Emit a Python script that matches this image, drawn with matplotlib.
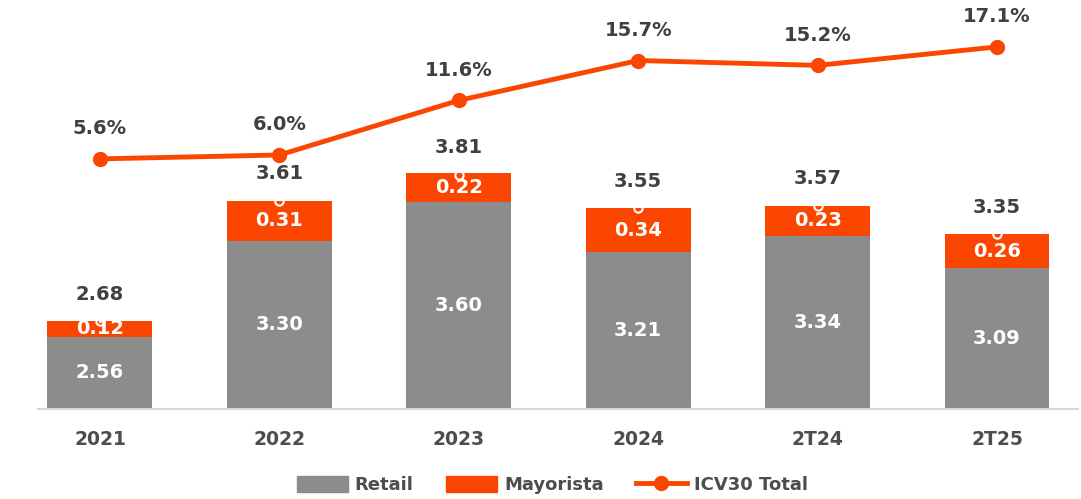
import matplotlib
matplotlib.use("Agg")
import matplotlib.pyplot as plt
from matplotlib.patches import Patch
from matplotlib.lines import Line2D

categories = ["2021", "2022", "2023", "2024", "2T24", "2T25"]
retail = [2.56, 3.30, 3.60, 3.21, 3.34, 3.09]
mayorista = [0.12, 0.31, 0.22, 0.34, 0.23, 0.26]
totals = [2.68, 3.61, 3.81, 3.55, 3.57, 3.35]
icv30 = [5.6, 6.0, 11.6, 15.7, 15.2, 17.1]

GRAY = "#8c8c8c"
ORANGE = "#fa4600"
TXT = "#404040"
TICK = "#4d4d4d"
FONT = "DejaVu Sans"

fig = plt.figure(figsize=(10.81, 4.99), dpi=100)
ax = fig.add_axes([0.0352, 0.180, 0.9618, 0.81])
x = list(range(len(categories)))
w = 0.585
ax.bar(x, retail, width=w, color=GRAY, bottom=0)
ax.bar(x, mayorista, width=w, bottom=retail, color=ORANGE)
ax.plot(x, totals, linestyle="none", marker="o", markersize=6,
        markerfacecolor="none", markeredgecolor="white", markeredgewidth=1.5, zorder=4)
ax.set_ylim(2.0, 5.12)
ax.set_xlim(-0.345, 5.45)

for i in x:
    ax.text(i, (2.0 + retail[i]) / 2, f"{retail[i]:.2f}", ha="center", va="center",
            color="white", fontsize=14, fontweight="bold", family=FONT)
    ax.text(i, retail[i] + mayorista[i] / 2, f"{mayorista[i]:.2f}", ha="center", va="center",
            color="white", fontsize=14, fontweight="bold", family=FONT, zorder=5)
    ax.annotate(f"{totals[i]:.2f}", (i, totals[i]), xytext=(0, 27), textcoords="offset pixels",
                ha="center", va="center", color=TXT, fontsize=14, fontweight="bold", family=FONT)

for s in ["top", "right", "left"]:
    ax.spines[s].set_visible(False)
ax.spines["bottom"].set_color("#d9d9d9")
ax.spines["bottom"].set_linewidth(1.5)
ax.set_yticks([])
ax.set_xticks(x)
ax.set_xticklabels(categories, fontsize=13.5, fontweight="bold", color=TICK, family=FONT)
ax.tick_params(axis="x", length=0, pad=15)

ax2 = ax.twinx()
ax2.plot(x, icv30, color=ORANGE, linewidth=3.5, marker="o", markersize=10, zorder=5)
ax2.set_ylim(-20.1, 21.4)
ax2.axis("off")
for i in x:
    ax2.annotate(f"{icv30[i]:.1f}%", (i, icv30[i]), xytext=(0, 30), textcoords="offset pixels",
                 ha="center", va="center", color=TXT, fontsize=14, fontweight="bold", family=FONT)

handles = [Patch(color=GRAY, label="Retail"), Patch(color=ORANGE, label="Mayorista"),
           Line2D([0], [0], color=ORANGE, linewidth=3.5, marker="o", markersize=10, label="ICV30 Total")]
fig.legend(handles=handles, loc="center", bbox_to_anchor=(0.511, 0.028), ncol=3, frameon=False,
           prop={"family": FONT, "weight": "bold", "size": 13}, labelcolor=TICK,
           handlelength=2.8, handleheight=1.0, columnspacing=1.8, handletextpad=0.4)

fig.savefig("out.png", dpi=100)
